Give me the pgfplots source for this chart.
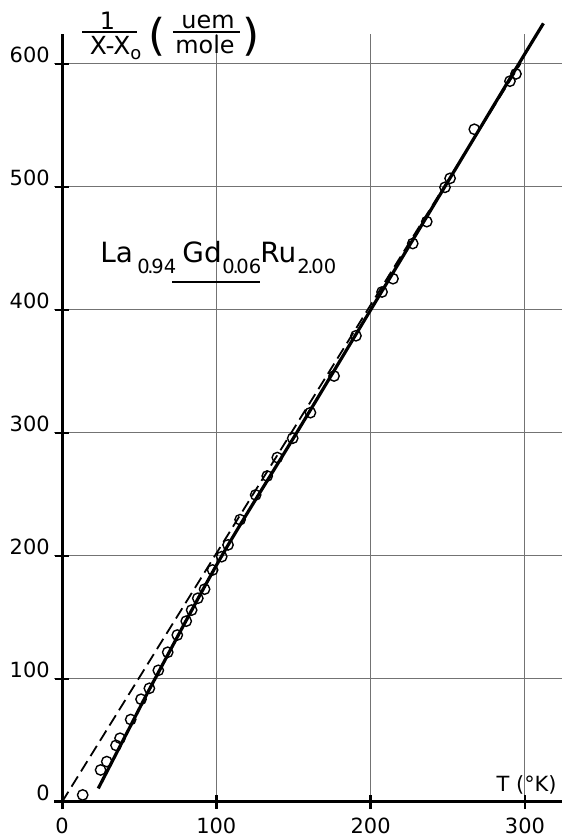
\documentclass[border=0pt]{standalone}
\usepackage{pgfplots}
\pgfplotsset{compat=1.18}
\usepackage{fontspec}
\setmainfont{DejaVu Sans}
\newcommand{\fs}[1]{\fontsize{#1}{#1}\selectfont}
\newcommand{\sdot}{\kern-0.12em.\kern-0.12em}

\pgfplotstableread{
x y
13.4 5.7
25.0 26.0
29.0 32.8
35.0 46.0
37.6 51.8
44.5 67.0
51.2 83.5
56.6 92.4
62.4 107.0
68.5 121.7
74.7 135.7
80.5 147.0
84.0 156.0
88.0 165.6
92.4 173.0
97.6 188.6
103.5 199.4
107.6 209.0
115.4 229.5
125.5 249.6
133.0 265.0
139.5 280.0
149.5 295.7
161.0 316.5
176.3 346.3
190.5 379.0
207.4 414.6
214.5 425.4
227.3 454.0
236.4 471.8
248.2 499.7
251.5 507.0
267.2 546.9
290.3 586.0
294.2 591.9
}\points

\pgfplotstableread{
x y
23.5 11
42 56
60.2 100
103.5 200
152 300
200 400
248 500
296 600
312 633
}\fitline

\pgfplotstableread{
x y
0 0
297 600
}\dashline

\begin{document}
\begin{tikzpicture}
\begin{axis}[
  x=0.7715bp, y=0.615bp,
  xmin=-5, xmax=324, ymin=-6, ymax=624,
  axis lines=middle,
  axis line style={-, line width=1.5bp, black},
  hide obscured x ticks=false, hide obscured y ticks=false,
  clip=false,
  xtick={0,100,200,300},
  ytick={0,100,200,300,400,500,600},
  grid=major,
  major grid style={black!55, line width=0.5bp},
  tick style={black, line width=1.2bp},
  major tick length=7bp,
  tick align=center,
  /pgf/number format/assume math mode=true,
  xticklabel style={font=\fs{10.5}, anchor=north, inner sep=0pt, yshift=-4.5bp},
  yticklabel style={font=\fs{10.5}, anchor=base east, inner sep=0pt, xshift=-2.5bp, yshift=0.5bp},
]
\addplot[black, line width=0.9bp, dash pattern=on 6bp off 3bp] table[x=x,y=y] {\dashline};
\addplot[black, line width=1.6bp, smooth] table[x=x,y=y] {\fitline};
\addplot[only marks, mark=o, mark size=2.6bp, mark options={line width=0.7bp, black, fill=none}] table[x=x,y=y] {\points};

% y label
\node[anchor=base, inner sep=0pt, font=\fs{12}] at (axis cs:29.5,628) {1};
\draw[line width=1bp] (axis cs:13,626) -- (axis cs:48.6,626);
\node[anchor=base, inner sep=0pt, font=\fs{12.5}] at (axis cs:34.7,607.3) {X-X\raisebox{-0.2em}{\fs{9}o}};
\node[anchor=center, inner sep=0pt, font=\fs{22}] at (axis cs:61.5,622.4) {(};
\node[anchor=base, inner sep=0pt, font=\fs{12}] at (axis cs:94.6,628.5) {uem};
\draw[line width=1bp] (axis cs:71.9,626) -- (axis cs:115.4,626);
\node[anchor=base, inner sep=0pt, font=\fs{12}] at (axis cs:92.7,608.7) {mole};
\node[anchor=center, inner sep=0pt, font=\fs{22}] at (axis cs:122.5,622.4) {)};

% x label
\node[anchor=base east, inner sep=0pt, font=\fs{10.5}] at (axis cs:320.8,8.1) {T (°K)};

% formula
\node[anchor=base west, inner sep=0pt, font=\fs{14}] at (axis cs:24.6,438.2) {La};
\node[anchor=base west, inner sep=0pt, font=\fs{9.8}] at (axis cs:48.6,429.3) {0\sdot94};
\node[anchor=base west, inner sep=0pt, font=\fs{14}] at (axis cs:77.8,438.2) {Gd};
\node[anchor=base west, inner sep=0pt, font=\fs{9.8}] at (axis cs:103.7,429.3) {0\sdot06};
\node[anchor=base west, inner sep=0pt, font=\fs{14}] at (axis cs:128.3,438.2) {Ru};
\node[anchor=base west, inner sep=0pt, font=\fs{9.8}] at (axis cs:152.3,429.3) {2\sdot00};
\draw[line width=1bp] (axis cs:71.3,422.8) -- (axis cs:128.3,422.8);

\coordinate (bl) at (axis cs:-40.2,-28.5);
\coordinate (tr) at (axis cs:324,652);
\end{axis}
\pgfresetboundingbox
\path (bl) rectangle (tr);
\end{tikzpicture}
\end{document}
